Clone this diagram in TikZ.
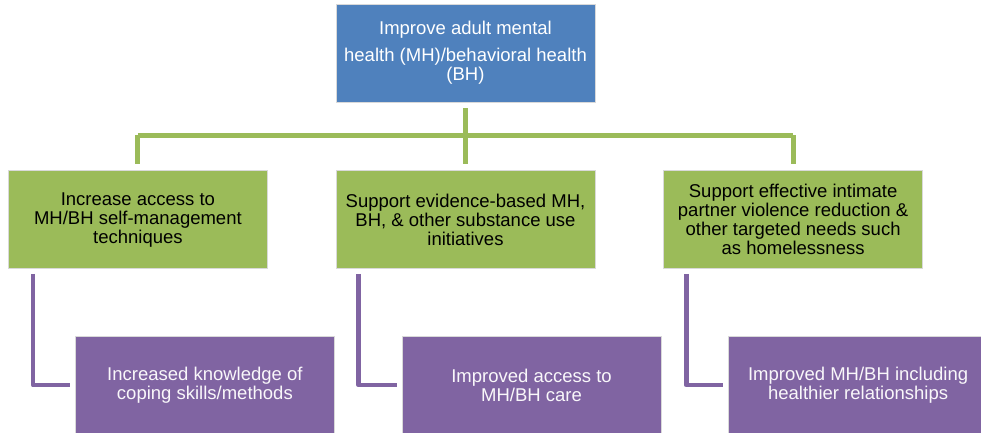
\documentclass[tikz,border=0pt]{standalone}
\usepackage{fontspec}
\setmainfont{Liberation Sans}
\usetikzlibrary{positioning}
\definecolor{goalblue}{HTML}{4F81BD}
\definecolor{stratgreen}{HTML}{9BBB59}
\definecolor{outpurple}{HTML}{8064A2}

\begin{document}
\begin{tikzpicture}[x=1pt, y=-1pt, node distance=68pt,
    box/.style={draw=white!85!black, line width=0.6pt, minimum width=259pt, minimum height=98pt,
        align=center, inner sep=0pt, font=\fontsize{18.5}{19}\selectfont},
    goal/.style={box, fill=goalblue, text=white},
    strat/.style={box, fill=stratgreen, text=black},
    outcome/.style={box, fill=outpurple, text=white!95!outpurple},
    tree/.style={draw=stratgreen, line width=5pt},
    elbow/.style={draw=outpurple, line width=4.5pt, line join=round, shorten <=5pt, shorten >=5pt}
]
    \useasboundingbox (0,0) rectangle (981,433);
    \node[goal] (top) at (465.5,53) {Improve adult mental\\[8pt] health (MH)/behavioral health\\ (BH)};
    \node[strat, below=68pt of top] (gm) {Support evidence-based MH,\\ BH, \& other substance use\\ initiatives};
    \node[strat, left=68pt of gm] (gl) {Increase access to\\ MH/BH self-management\\ techniques};
    \node[strat, right=68pt of gm] (gr) {Support effective intimate\\ partner violence reduction \&\\ other targeted needs such\\ as homelessness};
    \node[outcome, below right=67pt and 67pt of gl.south west] (pl) {Increased knowledge of\\ coping skills/methods};
    \node[outcome, below right=67pt and 66pt of gm.south west] (pm) {Improved access to\\ MH/BH care};
    \node[outcome, below right=67pt and 65pt of gr.south west] (pr) {Improved MH/BH including\\ healthier relationships};
    % green tree
    \coordinate (bus) at (465.5,135);
    \draw[tree, shorten <=6pt] (top.south) -- (bus);
    \draw[tree] (bus -| gl.north) -- (bus -| gr.north);
    \foreach \g in {gl, gm, gr}
        \draw[tree, shorten >=6pt] (bus -| \g.north) -- (\g.north);
    % purple elbows
    \draw[elbow] ([xshift=25pt]gl.south west) |- (pl.west);
    \draw[elbow] ([xshift=23pt]gm.south west) |- (pm.west);
    \draw[elbow] ([xshift=23pt]gr.south west) |- (pr.west);
\end{tikzpicture}
\end{document}
